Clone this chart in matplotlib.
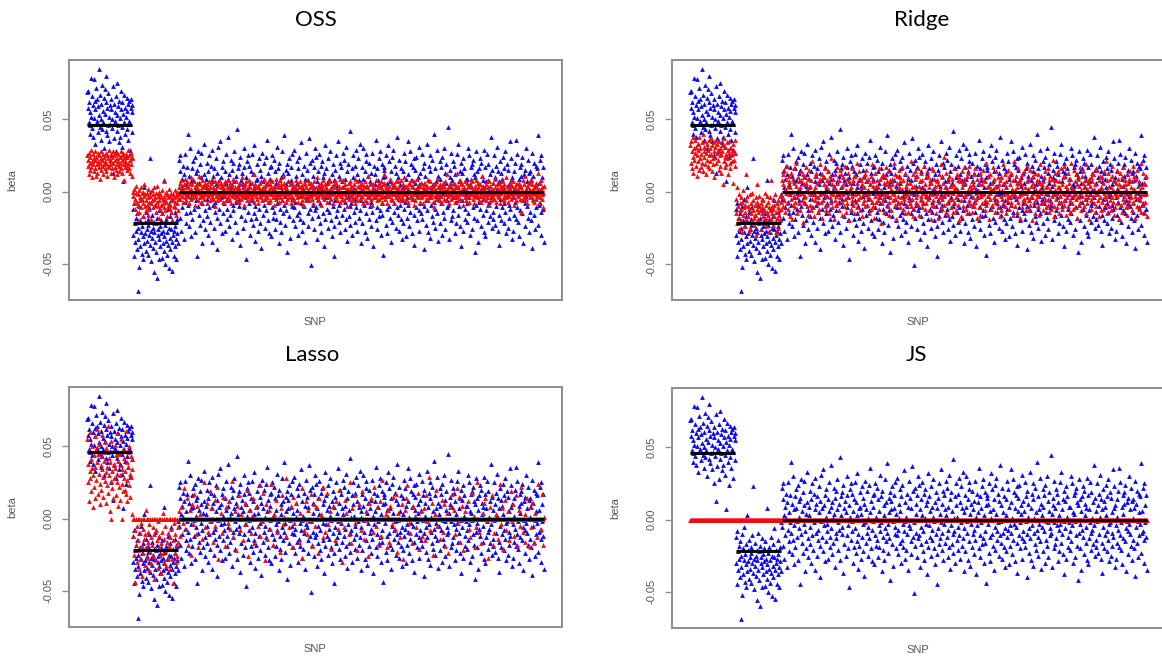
import numpy as np
import matplotlib
matplotlib.use("Agg")
import matplotlib.pyplot as plt

# ---------------- data (values in thousandths of beta) ----------------
# OLS / marginal estimates (blue) - identical in all four panels
blue_g1 = """
69 70 58 62 48 40 55 46 79 52  44 66 38 60 51 78 63 33 57 47
72 64 49 41 59 85 53 45 67 36  50 61 43 74 56 48 65 30 54 71
62 42 80 58 39 46 68 52 35 60  47 57 64 25 50 44 13 73 61 37
55 49 66 28 53 42 75 59 46 34  63 51 38 57 70 45 62 31 7 54
48 67 40 58 52 24 65 43 56 61  36 49 63 47 29 58 64 41 55 60
"""
blue_g2 = """
-12 -30 -45 -8 -22 -35 -18 -27 -40 -15  -69 -25 -33 -10 -52 -20 -38 -28 -5 -43
-24 -31 -17 -47 -36 3 -21 -29 -41 -14  -26 -34 -19 -23 -44 -30 -11 -37 23 -27
-48 -16 -32 -25 -39 -21 -56 -28 -9 -35  -22 -42 -60 -18 -30 -26 -47 -13 -33 -24
-38 -20 -29 -46 -15 -36 -27 8 -31 -41  -23 -50 -19 -34 -28 -44 -12 -37 -25 -53
-32 -17 -40 -26 -6 -35 -55 -21 -30 -45  -27 -14 -38 -24 -33 -47 -19 -29 -2 -36
"""
blue_g3 = """
22 -5 14 -18 25 3 -27 9 -11 18  1 -33 12 -7 26 -15 5 -22 17 -2
40 -9 -24 11 -14 30 -4 7 -31 16  -19 8 21 -12 -1 24 -28 13 -6 2
-45 15 -10 28 -16 6 -23 19 -3 10  27 -36 -8 4 -20 12 33 -13 -26 9
3 -17 20 -5 -30 14 -11 25 0 -21  18 -2 -35 7 29 -9 11 -25 16 -14
-7 23 5 -18 -40 13 -1 31 -12 8  35 -22 10 -4 17 -29 2 21 -15 -8
-3 14 -27 26 6 -12 -19 9 38 -6  12 -24 1 -16 22 4 -33 15 -9 20
-13 7 28 -2 -21 11 -7 43 -28 3  16 -10 -5 19 -37 24 8 -17 0 13
-25 5 17 -11 30 -4 -20 10 -47 21  2 -14 25 -8 -1 18 -30 6 14 -19
26 -6 -23 12 -15 32 3 -10 -34 8  -18 19 9 -27 4 -12 23 -3 15 -22
11 -39 -2 27 -16 7 -9 20 -25 1  -5 24 -13 5 36 -20 13 -7 -29 17
9 -1 -31 18 -11 25 -18 2 22 -14  -26 14 6 -4 -19 31 -8 16 -2 -36
20 -12 -21 10 3 -28 28 -6 12 -15  -9 39 -3 -23 15 -13 5 -42 19 7
13 -17 23 -1 -32 8 17 -10 -5 26  -20 4 -11 29 -7 -24 11 1 -16 21
6 -30 16 -14 24 -3 -19 34 -8 -1  -27 12 2 -21 18 -10 -35 9 27 -4
15 -6 -15 8 -24 37 0 -12 20 -51  -2 22 -18 11 -9 4 -26 17 -13 30
24 -11 7 -33 14 -5 -17 26 3 -22  -8 18 -28 1 21 -15 10 -3 -38 13
32 -19 -4 16 -12 6 -25 23 -7 9  -14 2 28 -20 -1 -31 12 -10 19 -24
8 -45 15 -6 25 -17 4 -13 35 -2  -21 11 -9 20 -28 17 -3 7 -16 27
3 -12 22 -26 9 -7 31 -19 14 -34  19 -4 -17 6 -10 42 -23 1 -8 16
-30 25 10 -14 2 -21 18 -5 29 -11  12 -27 -2 23 -18 8 -13 33 -36 5
-6 17 -22 9 30 -9 -1 14 -28 21  26 -15 4 -32 11 -3 20 -19 7 -10
-24 13 -7 27 -14 2 -38 18 -4 12  5 -20 36 -11 16 -26 8 -2 23 -17
-13 28 -30 3 -8 19 -16 10 -44 15  17 -3 11 -23 25 -12 6 -29 1 32
-10 21 -18 7 -35 14 -5 24 -21 4  29 -8 -14 18 -2 -25 13 -11 38 -16
-1 10 -27 22 -9 5 -19 16 -6 -33  14 -22 3 -12 27 -7 21 -31 9 -4
-18 35 -9 12 -24 1 -14 28 -3 19  8 -29 17 -5 -16 23 -37 6 15 -11
24 -2 -20 10 4 -27 31 -13 -8 13  -15 6 26 -19 -1 16 -10 -40 20 2
11 -23 -6 33 -13 8 -28 18 -4 25  -32 14 1 -9 22 -17 5 -21 40 -7
16 -12 -25 7 -3 29 -15 11 -34 3  -5 21 9 -22 17 -8 -30 24 -1 -14
30 -18 13 -2 -26 6 19 -11 -6 45  -9 4 -33 15 10 -20 -2 27 -17 8
21 -13 -4 18 -29 12 -7 3 -22 26  -3 33 -16 -10 7 -24 14 -1 20 -38
13 -6 23 -27 2 16 -12 -19 9 -2  -21 9 -8 30 -15 -4 25 -30 5 17
4 -26 19 -1 -11 22 -18 12 -42 10  28 -9 -3 14 -20 6 -35 16 -7 23
-12 20 -24 3 11 -16 8 -5 29 -28  17 -31 7 -13 26 -2 -21 19 -9 1
-7 12 -17 38 -4 -25 15 -14 6 -19  25 -1 10 -23 18 -10 2 31 -27 14
-16 7 -37 21 -5 13 -20 9 -11 24  3 -22 16 -8 28 -14 -3 -29 19 -2
-25 15 5 -18 -9 35 -12 8 23 -33  10 -4 -27 14 -16 2 20 -7 -19 36
-11 26 -2 -21 9 -31 17 4 -13 11  19 -15 24 -6 -36 12 -1 -24 15 -8
-3 30 -10 7 -18 22 -28 13 1 -14  14 -20 8 -39 27 -5 11 -16 20 -1
-26 5 18 -11 -3 16 -23 39 -9 6  22 -8 -14 25 -30 10 -2 17 -12 -35
"""

# OSS estimates (red, panel 1)
oss_g1 = """
25 18 22 12 27 20 15 24 29 17  21 10 26 19 14 23 28 16 22 11
24 19 13 27 21 17 25 9 20 23  15 28 22 18 26 12 19 24 16 21
27 14 20 25 11 23 18 29 17 22  19 26 13 21 24 16 28 20 10 25
22 17 27 15 19 23 12 26 21 18  14 24 20 28 16 22 25 13 19 27
23 8 21 17 26 20 15 24 18 29  20 25 16 22 13 27 19 23 11 24
"""
oss_g2 = """
-3 0 -8 2 -12 -5 4 -1 -15 -7  -20 -2 -9 1 -14 -4 -6 3 -11 -1
-5 -17 0 -8 -3 5 -10 -2 -13 -6  -1 -9 2 -4 -16 -7 -12 0 -3 -19
-8 1 -6 -11 -2 -22 -5 3 -9 -4  -14 -1 -7 4 -10 -3 -18 -6 0 -12
-2 -9 -4 -15 1 -8 -5 7 -11 -3  -6 -13 0 -7 -2 -17 -4 -10 2 -8
-12 -3 -9 -1 -14 -5 -20 -6 -2 -10  -4 -7 1 -11 -3 -16 -8 0 -5 -13
"""
oss_g3 = """
3 -2 6 0 -5 8 1 -3 4 -7  2 -1 5 -4 9 0 -6 3 -2 7
-3 4 1 -8 6 -1 2 -5 10 0  5 -4 -1 7 -2 3 -9 1 4 -3
0 6 -6 2 -1 11 -4 5 -2 1  -7 3 8 -3 0 -5 4 -1 6 -2
4 -8 1 5 -3 2 -1 7 -6 3  -2 6 -4 0 9 -5 3 -1 2 -10
7 1 -3 4 -6 0 5 -2 -4 8  -1 -5 3 6 -2 4 -7 1 0 5
2 -3 7 -1 -6 3 0 8 -4 1  -5 4 -2 6 1 -8 5 -3 2 -1
9 -2 0 -4 3 7 -6 1 -3 4  -1 5 -7 2 -2 0 6 -5 10 -3
3 -1 4 -9 1 5 -2 -4 7 0  -6 2 -3 8 -1 4 -5 3 0 -2
6 -4 1 -2 12 -7 2 -1 5 -3  0 3 -5 4 -8 1 -1 6 -3 2
-4 7 2 -6 3 -2 9 0 -5 4  1 -3 6 -1 -4 5 -7 2 8 -2
5 -6 0 3 -2 7 -4 1 -9 4  -2 1 -5 9 0 -3 4 -1 6 -7
3 -4 8 -2 5 -1 -6 2 0 11  -3 6 -1 4 -7 2 3 -5 1 -2
7 0 -4 -1 5 -8 1 6 -3 2  -5 3 2 -6 0 4 -2 8 -4 -1
1 -7 5 3 -3 -1 7 -2 4 -6  4 2 -3 -9 6 0 -1 5 -5 3
-1 8 -2 1 -4 6 -6 0 3 -3  6 -5 4 -2 2 -8 1 7 -1 0
-4 3 -1 10 -6 2 -3 5 0 -2  2 -9 6 -1 4 -4 8 -3 1 -5
0 5 -2 3 -7 1 -1 6 -4 9  -3 1 7 -5 2 -2 4 0 -8 3
5 -1 -4 8 -3 6 -6 2 -1 1  -2 4 1 -7 9 -3 0 -5 3 -1
8 -6 3 0 -2 5 -4 1 -10 2  -1 2 -5 6 1 -3 7 -2 4 -6
3 -4 0 -1 5 -8 2 9 -3 1  -6 7 -2 4 -1 0 -5 3 6 -4
1 -3 5 -8 2 4 -1 -6 7 0  4 -2 -7 3 -4 11 -3 1 -1 5
-5 0 6 -2 -9 3 5 -4 2 -1  2 8 -3 1 -6 -1 4 -2 6 -5
-1 3 -4 7 0 -7 2 5 -3 12  6 -5 1 -2 4 -3 -8 3 0 2
-3 4 -1 9 -5 1 6 -2 -6 3  0 -8 5 -1 3 7 -4 2 -2 -5
7 2 -3 4 -1 -6 1 8 -4 0  -2 5 -6 1 10 -2 3 -5 4 -1
3 -1 2 -7 6 0 -4 5 -3 8  -5 4 -2 3 -1 -9 7 1 -6 2
1 -3 9 -4 2 5 -1 -2 4 -7  -4 6 0 -3 -8 3 2 6 -1 -2
5 -2 -5 1 4 -6 8 -3 0 3  -1 7 3 -4 -2 1 -7 4 -11 5
2 -3 6 0 -5 9 -1 -4 3 -2  -6 1 -2 5 3 -3 4 -8 1 6
4 -5 1 -1 7 -2 -6 2 12 -3  -2 3 -8 6 -1 4 0 -5 2 -4
6 0 -3 2 -7 5 -1 3 -4 13  -3 -6 4 -2 1 8 -5 0 6 -1
2 5 -1 -9 3 -2 7 -4 1 -6  -4 1 6 -3 4 -1 -7 5 -2 9
3 -2 0 7 -5 2 -3 -8 4 1  -1 8 -4 1 -2 6 3 -6 0 -3
5 -7 2 -1 11 -3 1 4 -5 2  -2 3 -6 5 0 -4 8 -1 3 -9
7 -1 4 -3 -6 2 -2 6 -4 1  0 -5 3 9 -1 -7 5 -2 2 -3
-4 6 -2 1 -8 4 -1 3 7 -5  2 -3 5 -6 1 0 -4 10 -2 4
-7 1 -1 3 -3 6 2 -5 8 -1  4 -2 7 -4 0 -9 3 1 -6 5
-1 5 -3 2 6 -2 -5 4 -1 -14  3 -6 1 8 -2 5 -4 0 11 -3
-5 2 -8 4 -1 3 6 -2 -4 7  1 9 -3 -1 5 -6 2 -7 3 0
-2 4 -5 6 -3 1 -1 13 -8 2  6 -4 2 -2 8 -5 3 -1 -11 4
"""

# Ridge estimates (red, panel 2)
ridge_g1 = """
32 20 35 16 28 38 24 13 30 22  27 36 18 31 25 11 33 21 29 15
38 23 30 17 26 34 20 40 14 28  24 31 19 35 12 27 33 22 29 18
36 25 16 30 21 37 26 14 32 23  19 34 28 10 31 24 36 20 27 33
22 29 15 35 25 18 30 13 26 32  28 5 33 21 37 24 17 31 26 19
34 23 29 12 27 35 20 30 16 25  30 21 26 33 6 28 22 36 18 27
"""
ridge_g2 = """
-5 -15 -22 3 -10 -18 -2 -26 -8 -13  -20 -4 -12 -28 -7 -16 1 -11 -24 -9
-14 -19 12 -6 -21 -3 -17 -10 -27 -12  -2 -25 -8 -15 -11 -20 -1 -13 -6 -18
-23 -9 -16 -4 -30 -12 -7 5 -19 -14  -10 -3 -21 -13 -8 -26 -15 -5 -11 -17
-6 -22 -12 -1 -18 -9 -24 -14 -3 -20  -16 -7 -27 -11 -4 -13 -19 8 -10 -15
-12 -23 -5 -17 -9 -2 -21 -14 -28 -8  -18 -11 -6 -25 -13 -16 -3 -20 -7 -12
"""
ridge_g3 = """
8 -3 12 -10 5 15 -6 2 -14 9  -1 18 -8 4 -12 7 -2 11 -17 3
13 -5 0 -19 9 -9 6 -3 16 -7  -11 4 20 -4 -15 10 1 -8 7 -2
3 -13 8 14 -6 -1 -21 12 -4 5  -7 10 -3 6 17 -10 2 -16 9 0
15 -2 -9 4 -13 8 -5 21 -1 -11  1 -17 11 -6 3 -3 13 -8 6 -14
-4 7 -12 19 -2 9 -7 0 -18 12  10 -6 5 -1 -10 16 -3 -13 4 8
-9 2 14 -15 7 -4 11 -1 -7 23  5 -11 -2 9 -19 3 12 -6 1 -9
-3 17 6 -8 0 -13 8 -4 15 -1  12 -7 -16 4 10 -2 -10 6 -5 18
-14 1 9 -4 -8 13 -1 -20 7 2  6 -12 3 16 -6 -3 8 -9 11 -15
-2 11 -7 1 -11 6 20 -5 -1 9  14 -4 -13 8 2 -17 5 -2 10 -8
-6 3 12 -10 15 -1 -9 7 -3 1  9 -15 -1 5 -5 11 -12 19 -7 4
-10 7 2 -18 13 -3 4 -7 8 -1  3 -6 16 -2 -12 9 -4 1 -22 11
-8 12 -5 6 -1 -14 10 -3 5 17  7 -2 -10 14 4 -7 -16 8 -4 2
-13 5 9 -1 -6 20 -2 -9 12 -5  1 -19 6 11 -3 -8 3 15 -11 7
10 -4 -7 2 17 -12 8 -1 -5 -15  -3 13 4 -9 -2 6 -14 10 1 -6
6 -8 -1 21 -10 3 -5 12 -17 4  -12 9 14 -4 2 -7 11 -2 -9 16
4 -16 1 7 -6 13 -3 -11 8 -1  -7 2 18 -12 5 -2 -8 10 -4 14
11 -5 -13 3 -1 8 -19 6 16 -9  -2 15 -6 -10 9 1 4 -15 -3 7
8 -1 5 -18 12 -7 2 -4 19 -11  -5 10 -12 6 -3 24 -9 3 -1 -14
13 -8 1 -2 7 -16 11 -6 4 0  -11 4 9 -5 -14 5 -1 16 -7 2
3 -13 -4 12 1 -9 8 -2 -20 10  -1 7 -17 -6 14 3 -10 6 -3 17
9 -3 6 -12 -2 11 -15 1 13 -8  -6 18 -1 4 -9 2 7 -14 -4 5
12 -10 3 -7 16 -5 -1 9 -18 1  -4 6 -11 13 0 -16 10 -3 5 -8
15 -2 8 -1 -13 7 -6 20 -9 3  -7 11 -3 -19 4 -1 12 -5 2 -12
6 -9 17 2 -4 9 -14 3 -7 14  -2 4 -6 10 -11 1 5 -17 8 -3
10 -13 1 -5 19 -8 -2 6 -10 12  -15 3 7 -1 -6 15 -3 -12 11 -4
5 -7 13 -9 2 -2 -16 8 -1 21  -10 1 -4 11 -14 6 3 -7 16 -3
7 -18 9 -2 5 -11 12 1 -6 -1  -5 14 -8 3 -1 -13 7 18 -4 9
2 -6 -12 15 -9 4 -3 10 -20 6  -1 11 4 -7 13 -15 1 -5 8 -2
12 -3 -10 6 -16 2 19 -8 -1 5  -8 7 1 -13 10 -4 -6 14 3 -11
4 -1 16 -5 -9 8 -14 2 11 -7  -12 9 -3 22 -2 -10 5 -17 1 13
8 -5 -1 -11 14 3 -8 7 -15 2  -3 16 -7 5 -12 10 -1 -6 18 -9
11 -2 4 -16 1 -4 13 -10 6 -1  -6 9 -14 3 20 -8 2 -3 -12 15
1 -11 7 -2 -5 12 -18 5 9 -4  -9 4 -1 17 -7 1 -13 11 -3 6
14 -10 3 -5 8 -15 -2 19 -8 2  -4 6 -19 9 -1 4 10 -12 -6 13
7 -3 12 -8 2 -14 5 -1 16 -10  -2 15 -6 1 -17 8 -4 11 3 -13
10 -7 2 -12 6 -1 14 -9 -3 21  -5 1 -15 8 -2 13 -10 4 -6 9
3 -13 18 -4 11 -7 1 -16 7 -1  -11 6 -2 15 -8 -3 9 2 -19 5
13 -1 -9 4 -14 10 -5 17 0 -7  -3 8 5 -11 2 -16 12 -2 6 -10
9 -6 -1 14 -4 3 -13 7 -8 18  -7 2 11 -3 -18 9 -1 -10 15 -5
4 -12 -4 7 1 -6 20 -14 3 -2  -9 13 6 -15 -2 5 -7 11 -1 -17
"""

# Lasso estimates (red, panel 3)
lasso_g1 = """
55 38 25 47 12 33 60 28 41 19  35 50 8 30 44 22 57 36 14 48
27 62 39 17 45 31 52 24 10 37  43 20 34 58 29 15 46 40 26 53
32 11 49 36 23 64 18 42 30 5  39 26 54 0 33 21 47 14 38 28
51 35 16 44 25 59 31 9 40 22  45 30 13 37 55 24 0 34 19 48
28 42 20 33 61 17 39 27 12 46  36 23 50 31 15 43 29 3 41 34
"""
lasso_g2 = """
0 -12 -25 0 -44 -8 -18 0 -30 -5  -15 0 -22 -35 0 -10 -28 -3 0 -19
-40 -7 0 -24 -14 0 -32 -11 6 -20  0 -27 -9 -16 0 -36 -4 -23 0 -13
-31 0 -18 -6 -26 0 -42 -11 -21 0  -8 -29 0 -15 -2 -34 0 -20 -12 -25
0 -17 -38 0 -9 -24 4 -14 -30 0  -22 -5 0 -33 -16 0 -27 -10 -19 0
-13 -35 0 -21 -7 -28 0 -15 -45 -3  0 -24 -11 0 -30 -18 0 -26 -6 -16
"""
lasso_g3 = """
0 5 0 0 -12 0 8 0 0 -3  0 0 21 0 0 -7 0 0 14 0
-18 0 0 0 6 0 -25 0 0 10  0 0 -4 0 17 0 0 0 -11 0
9 0 0 -20 0 0 3 0 0 0  0 -14 0 0 0 25 0 -6 0 0
0 0 11 0 -9 0 0 0 19 -2  0 7 0 0 0 -16 0 0 0 13
-5 0 0 22 0 0 0 -28 0 0  0 0 4 0 0 -10 0 15 0 0
0 -19 0 0 8 0 0 0 -3 0  12 0 0 -7 0 0 26 0 0 -13
0 0 0 5 0 -22 0 0 9 0  0 16 0 0 -8 0 0 3 0 0
-15 0 0 0 0 11 0 -4 0 20  0 0 -26 0 6 0 0 0 -10 0
0 2 0 14 0 0 -17 0 0 0  8 0 0 0 -5 0 0 23 0 -12
0 0 -2 0 0 18 0 0 -29 0  0 10 0 0 -14 0 0 6 0 0
-7 0 0 24 0 0 0 -18 0 3  0 0 13 0 0 -9 0 0 0 0
0 -23 0 0 7 0 0 16 0 -4  1 0 0 0 -12 0 28 0 0 0
0 0 -6 0 0 9 0 0 -20 0  15 0 0 -3 0 0 0 11 0 0
0 0 0 -16 0 4 0 0 0 -27  0 21 0 0 0 -8 0 0 12 0
-11 0 0 6 0 0 -2 0 0 17  0 0 -19 0 0 0 10 0 -5 0
0 8 0 0 -24 0 0 0 14 0  0 0 3 0 0 -13 0 22 0 0
-9 0 0 0 18 0 0 -4 0 0  0 5 0 -21 0 0 0 0 9 0
0 0 -15 0 0 12 0 0 0 -7  20 0 0 0 -2 0 0 -30 0 0
0 -6 0 13 0 0 4 0 0 0  0 0 0 -11 0 25 0 0 -17 0
7 0 0 0 0 -3 0 16 0 0  0 -22 0 0 10 0 0 0 -8 1
0 0 19 0 0 -14 0 0 0 5  -1 0 0 0 -26 0 0 11 0 0
0 14 0 0 0 0 -9 0 22 0  0 0 -5 0 8 0 0 0 -18 0
12 0 0 -12 0 0 27 0 0 0  0 0 0 3 0 -20 0 0 6 0
-16 0 9 0 0 0 -4 0 0 15  0 0 0 -7 0 17 0 0 -23 0
0 4 0 0 -13 0 0 0 0 10  0 0 -28 0 0 6 0 14 0 0
23 0 0 0 -3 0 0 -10 0 0  0 -17 0 9 0 0 0 2 0 -6
0 0 0 0 18 0 -21 0 0 0  5 0 -12 0 0 0 7 0 0 -15
0 0 16 0 -2 0 0 0 29 0  0 -8 0 0 0 11 0 -25 0 0
3 0 0 20 0 0 -5 0 0 0  0 0 -14 0 0 0 13 0 -9 0
0 10 0 0 -19 0 0 4 0 0  -24 0 0 0 8 0 0 0 17 0
0 0 6 0 0 -11 0 0 0 21  0 -3 0 0 15 0 -16 0 0 0
9 0 0 -22 0 0 0 5 0 0  0 0 0 12 0 -7 0 0 -13 0
0 18 0 0 0 0 2 0 -20 0  -6 0 0 0 25 0 0 -9 0 0
0 0 -17 0 0 4 0 0 11 0  14 0 0 0 -1 0 -27 0 0 0
0 0 8 0 0 0 16 0 0 -18  0 -10 0 0 3 0 0 0 -14 0
0 0 0 24 0 -4 0 0 7 0  -21 0 0 0 0 13 0 -8 0 0
0 5 0 -15 0 0 0 19 0 -2  0 0 10 0 0 -12 0 0 0 16
0 -18 0 0 6 0 0 -5 0 0  22 0 0 -9 0 0 0 3 0 -16
0 0 14 0 0 0 -19 0 0 8  0 -6 0 0 11 0 0 0 -17 0
4 0 0 0 -13 0 24 0 0 0  0 0 -7 0 0 17 0 -18 0 1
"""

# True effect levels for the three SNP blocks (black segments)
true_levels = [46, -22, 0]

titles = ["OSS", "Ridge", "Lasso", "JS"]
ytick_vals = [-0.05, 0.0, 0.05]
ytick_labels = ["-0.05", "0.00", "0.05"]


def parse(s):
    return np.array(s.split(), dtype=float) / 1000.0


blue_groups = [parse(blue_g1), parse(blue_g2), parse(blue_g3)]
red_sets = {
    "OSS": [parse(oss_g1), parse(oss_g2), parse(oss_g3)],
    "Ridge": [parse(ridge_g1), parse(ridge_g2), parse(ridge_g3)],
    "Lasso": [parse(lasso_g1), parse(lasso_g2), parse(lasso_g3)],
    "JS": [np.zeros(len(g)) for g in blue_groups],  # JS shrinks everything to 0
}

sizes = [len(g) for g in blue_groups]
starts = np.concatenate([[1], 1 + np.cumsum(sizes)[:-1]])
N = sum(sizes)
blue_x = np.arange(1, N + 1)
blue_y = np.concatenate(blue_groups)

# ---------------- figure ----------------
W, H = 1162, 658
fig = plt.figure(figsize=(W / 100, H / 100), dpi=100)

# axes boxes in pixels: left, top, right, bottom
boxes = {
    "OSS": (69, 60, 562, 300),
    "Ridge": (672, 60, 1165, 300),
    "Lasso": (69, 387, 562, 627),
    "JS": (672, 388, 1165, 628),
}
title_pos = {"OSS": (316, 20), "Ridge": (922, 20), "Lasso": (312, 355), "JS": (916, 355)}

gray_txt = "#555555"
spine_col = "#8c8c8c"

ymin = blue_y.min()
ymax = blue_y.max()
yr = ymax - ymin
ylim = (ymin - 0.04 * yr, ymax + 0.04 * yr)
xlim = (1 - 0.04 * (N - 1), N + 0.04 * (N - 1))

for name in titles:
    l, t, r, b = boxes[name]
    ax = fig.add_axes([l / W, 1 - b / H, (r - l) / W, (b - t) / H])
    ax.scatter(blue_x, blue_y, s=12, marker="^", color="#0a0af5", linewidths=0, zorder=2)
    for g, st in zip(red_sets[name], starts):
        ax.scatter(st + np.arange(len(g)), g, s=12, marker="^", color="#f50a0a",
                   linewidths=0, zorder=3)
    for lev, st, n in zip(true_levels, starts, sizes):
        ax.plot([st, st + n - 1], [lev / 1000.0, lev / 1000.0], color="black",
                lw=2.2, solid_capstyle="butt", zorder=4)
    ax.set_xlim(*xlim)
    ax.set_ylim(*ylim)
    ax.set_xticks([])
    ax.set_yticks(ytick_vals)
    ax.set_yticklabels(ytick_labels, rotation=90, va="center",
                       fontsize=8, color=gray_txt, family="Liberation Sans")
    ax.tick_params(axis="y", direction="out", length=5, width=1.0,
                   color=spine_col, pad=6)
    for sp in ax.spines.values():
        sp.set_color(spine_col)
        sp.set_linewidth(1.4)
    # axis labels
    fig.text((l - 57) / W, 1 - ((t + b) / 2) / H, "beta", rotation=90,
             ha="center", va="center", fontsize=8, color=gray_txt,
             family="Liberation Sans")
    fig.text(((l + r) / 2 - 1) / W, 1 - (b + 22) / H, "SNP", ha="center", va="center",
             fontsize=8, color=gray_txt, family="Liberation Sans")
    tx, ty = title_pos[name]
    fig.text(tx / W, 1 - ty / H, name, ha="center", va="center", fontsize=16,
             color="black", family="Lato")

fig.savefig("out.png", dpi=100)
